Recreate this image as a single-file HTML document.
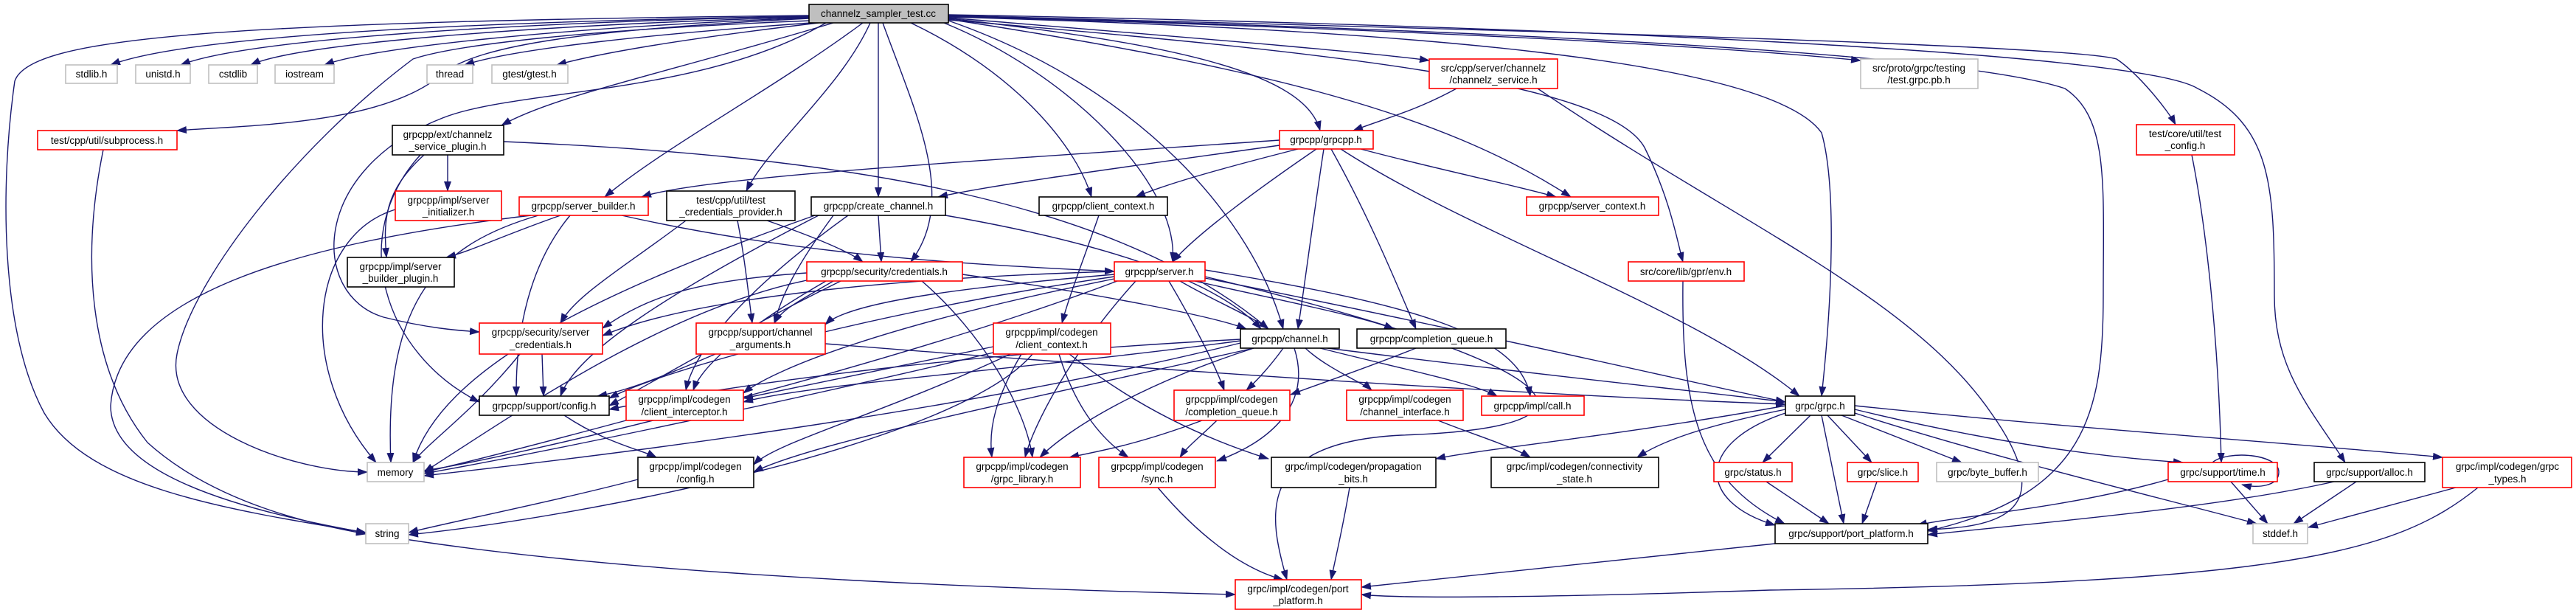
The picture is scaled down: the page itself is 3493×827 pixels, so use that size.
<!DOCTYPE html>
<html><head><meta charset="utf-8"><style>
html,body{margin:0;padding:0;background:#fff}
svg{display:block}
text{font-family:"Liberation Sans",sans-serif;font-size:13.5px;fill:#000;text-anchor:middle}
.e{fill:none;stroke:#191970;stroke-width:1.4}
.r{fill:#fff;stroke:#ff0000;stroke-width:1.6}
.b{fill:#fff;stroke:#000;stroke-width:1.6}
.g{fill:#fff;stroke:#bfbfbf;stroke-width:1.6}
</style></head><body>
<svg width="3493" height="827" viewBox="0 0 3493 827" xmlns="http://www.w3.org/2000/svg">
<defs><marker id="a" markerWidth="14" markerHeight="10" refX="13" refY="5" orient="auto" markerUnits="userSpaceOnUse"><path d="M0,0 L14,5 L0,10 z" fill="#191970"/></marker></defs>
<g class="e" marker-end="url(#a)">
<!-- root edges -->
<path d="M1097,22 C600,30 250,50 150,88"/>
<path d="M1097,22 C650,32 330,55 245,88"/>
<path d="M1097,23 C700,35 400,60 340,88"/>
<path d="M1097,24 C750,38 500,65 440,88"/>
<path d="M1100,31 C900,45 700,65 630,88"/>
<path d="M1110,31 C950,50 820,70 755,88"/>
<path d="M1097,25 C800,40 650,60 600,100 C520,170 330,170 240,177"/>
<path d="M1097,21 C300,30 40,50 20,110 C0,250 0,450 60,560 C120,660 300,690 496,722"/>
<path d="M1100,28 C800,40 620,60 560,80 C400,200 260,380 240,480 C220,580 400,640 498,640"/>
<path d="M1120,31 C950,130 700,120 600,160 C420,230 420,400 520,430 C580,445 620,448 650,450"/>
<path d="M1130,31 C900,100 750,130 680,170"/>
<path d="M1170,31 C1050,120 900,200 820,267"/>
<path d="M1180,31 C1140,120 1040,200 1012,259"/>
<path d="M1191,31 L1191,267"/>
<path d="M1197,31 C1240,150 1300,270 1235,355"/>
<path d="M1235,31 C1380,100 1460,200 1480,267"/>
<path d="M1280,31 C1450,100 1600,250 1590,355"/>
<path d="M1286,28 C1550,120 1700,300 1740,446"/>
<path d="M1286,24 C1600,50 1850,70 1938,82"/>
<path d="M1286,25 C1600,60 1770,100 1790,177"/>
<path d="M1286,26 C1700,90 1950,150 2130,267"/>
<path d="M1286,27 C1800,70 2180,110 2230,200 C2265,270 2275,330 2282,355"/>
<path d="M1286,22 C1900,40 2300,60 2523,82"/>
<path d="M1286,23 C1900,40 2400,80 2470,180 C2490,250 2485,400 2470,537"/>
<path d="M1286,21 C2000,40 2800,60 2870,80 C2900,100 2940,150 2950,169"/>
<path d="M1286,22 C2000,40 2650,70 2800,120 C2860,160 2852,250 2852,400 C2852,560 2830,670 2614,720"/>
<path d="M1286,20 C2100,35 2900,70 2980,120 C3080,170 3084,250 3084,400 C3084,500 3130,550 3180,627"/>
<!-- plugin -->
<path d="M607,210 L607,259"/>
<path d="M575,210 C520,260 520,300 524,349"/>
<path d="M570,210 C470,320 520,480 650,545"/>
<path d="M683,192 C1100,210 1500,260 1720,446"/>
<path d="M536,284 C420,320 400,500 510,627"/>
<!-- server_builder -->
<path d="M760,292 C680,320 640,340 605,349"/>
<path d="M843,292 C1100,350 1350,360 1511,368"/>
<path d="M730,292 C600,330 520,400 530,627"/>
<path d="M773,292 C700,380 700,500 700,537"/>
<path d="M720,292 C400,330 160,400 150,550 C150,700 600,780 1675,806"/>
<!-- tcred -->
<path d="M1040,299 C1100,320 1150,340 1170,355"/>
<path d="M1000,299 C1010,350 1015,400 1020,438"/>
<path d="M930,299 C850,360 780,400 760,438"/>
<!-- create_channel -->
<path d="M1191,292 L1195,355"/>
<path d="M1282,292 C1500,330 1650,380 1710,446"/>
<path d="M1130,292 C1080,360 1060,400 1050,438"/>
<path d="M1110,292 C900,400 780,480 760,537"/>
<path d="M1105,292 C800,400 600,500 560,627"/>
<path d="M1150,292 C1000,400 940,480 930,529"/>
<path d="M1490,292 C1470,350 1450,400 1440,438"/>
<!-- grpcpp.h -->
<path d="M1735,190 C1300,220 950,240 870,267"/>
<path d="M1735,197 C1500,230 1350,250 1272,267"/>
<path d="M1760,202 C1650,230 1580,250 1540,267"/>
<path d="M1785,202 C1700,260 1620,320 1590,355"/>
<path d="M1795,202 C1780,300 1770,380 1760,446"/>
<path d="M1805,202 C1860,300 1900,400 1920,446"/>
<path d="M1845,202 C1950,230 2050,250 2110,267"/>
<path d="M1818,202 C2000,320 2300,420 2440,537"/>
<path d="M1975,120 C1920,150 1880,160 1835,177"/>
<path d="M2085,120 C2350,300 2590,400 2700,560 C2800,700 2700,715 2614,718"/>
<!-- server.h -->
<path d="M1511,368 C1100,380 900,420 817,455"/>
<path d="M1511,372 C1300,390 1150,410 1119,440"/>
<path d="M1511,375 C1200,420 900,500 826,540"/>
<path d="M1511,378 C1200,440 1050,500 1008,533"/>
<path d="M1515,381 C1200,500 700,620 575,638"/>
<path d="M1600,381 C1650,410 1700,430 1720,446"/>
<path d="M1620,381 C1750,410 1850,430 1890,446"/>
<path d="M1585,381 C1620,440 1650,500 1660,529"/>
<path d="M1540,381 C1450,480 1400,580 1390,620"/>
<path d="M1634,366 C1900,410 2060,450 2075,537"/>
<path d="M1634,375 C2150,500 2200,580 1900,590 C1700,600 1720,700 1745,786"/>
<path d="M1634,377 C2000,450 2300,520 2421,545"/>
<!-- credentials.h -->
<path d="M1094,370 C950,380 880,400 817,445"/>
<path d="M1130,381 C1080,410 1060,420 1050,438"/>
<path d="M1305,372 C1500,400 1650,430 1690,446"/>
<path d="M1140,381 C1000,450 900,510 826,550"/>
<path d="M1120,381 C1000,450 950,500 940,529"/>
<path d="M1250,381 C1330,450 1390,550 1400,620"/>
<path d="M1094,380 C900,420 700,560 575,640"/>
<!-- misc -->
<path d="M735,480 L737,537"/>
<path d="M705,480 C640,560 580,600 560,627"/>
<path d="M970,480 C900,510 850,530 810,537"/>
<path d="M1119,466 C1800,520 2200,540 2421,548"/>
<path d="M765,563 C820,600 870,610 890,620"/>
<path d="M849,570 C700,610 620,630 575,640"/>
<path d="M865,650 C750,680 600,710 554,722"/>
<path d="M140,203 C110,350 120,500 200,600 C300,690 450,715 496,724"/>
<!-- codegen client_context -->
<path d="M1347,470 C1200,500 1100,520 1008,540"/>
<path d="M1385,480 C1350,540 1340,580 1345,620"/>
<path d="M1436,480 C1460,560 1500,600 1530,620"/>
<path d="M1450,480 C1550,560 1650,600 1720,622"/>
<path d="M1347,478 C1000,560 700,620 575,642"/>
<path d="M1400,480 C1300,600 800,700 554,725"/>
<path d="M1370,480 C1200,560 1050,600 1022,630"/>
<!-- channel.h -->
<path d="M1740,472 C1720,500 1700,520 1690,529"/>
<path d="M1770,472 C1800,500 1850,520 1860,529"/>
<path d="M1790,472 C1900,500 2000,520 2030,537"/>
<path d="M1800,472 C2100,510 2300,530 2421,545"/>
<path d="M1700,472 C1550,520 1450,580 1410,620"/>
<path d="M1755,472 C1780,550 1720,600 1650,625"/>
<path d="M1682,462 C1400,500 1100,520 1008,545"/>
<path d="M1682,465 C1300,560 800,620 575,645"/>
<path d="M1682,460 C1300,480 1000,520 826,555"/>
<path d="M1700,472 C1400,540 1100,600 1022,640"/>
<path d="M1920,472 C1850,500 1790,520 1750,535"/>
<path d="M1630,570 C1550,600 1500,610 1450,620"/>
<path d="M1650,570 C1630,590 1610,605 1600,620"/>
<path d="M1950,570 C2000,590 2050,605 2075,620"/>
<path d="M1570,661 C1620,720 1680,770 1740,786"/>
<path d="M1830,661 C1820,720 1810,760 1805,786"/>
<!-- grpc.h -->
<path d="M2455,563 L2390,627"/>
<path d="M2478,563 L2538,627"/>
<path d="M2497,563 L2660,627"/>
<path d="M2515,555 C2700,600 2850,620 2960,627"/>
<path d="M2515,560 C2700,620 2950,680 3060,710"/>
<path d="M2515,550 C2800,580 3100,600 3312,620"/>
<path d="M2470,563 L2500,710"/>
<path d="M2421,555 C2300,580 2250,600 2220,620"/>
<path d="M2421,550 C2200,590 2000,610 1947,622"/>
<path d="M2421,560 C2300,600 2300,680 2407,712"/>
<path d="M2395,653 L2480,710"/>
<path d="M2545,653 L2525,710"/>
<path d="M2940,650 C2800,690 2650,700 2600,712"/>
<path d="M3000,627 C3020,610 3090,615 3090,640 C3090,660 3060,662 3040,657"/>
<path d="M3025,653 L3075,710"/>
<path d="M3165,653 C3000,690 2750,710 2614,725"/>
<path d="M3195,653 L3110,710"/>
<path d="M3330,661 L3130,715"/>
<path d="M3360,661 C3250,750 3100,790 2400,800 C2100,810 1900,812 1846,806"/>
<path d="M2407,737 C2200,760 2000,780 1846,796"/>
<path d="M2972,210 C2990,300 3008,450 3012,627"/>
<path d="M2282,381 C2280,550 2300,650 2420,710"/>
</g>
<!-- nodes -->
<rect x="1097" y="6" width="189" height="25" fill="#bfbfbf" stroke="#000" stroke-width="1.6"/><text x="1191" y="23">channelz_sampler_test.cc</text>
<rect class="g" x="89" y="88" width="70" height="25"/><text x="124" y="105">stdlib.h</text>
<rect class="g" x="184" y="88" width="74" height="25"/><text x="221" y="105">unistd.h</text>
<rect class="g" x="283" y="88" width="66" height="25"/><text x="316" y="105">cstdlib</text>
<rect class="g" x="373" y="88" width="80" height="25"/><text x="413" y="105">iostream</text>
<rect class="g" x="579" y="88" width="62" height="25"/><text x="610" y="105">thread</text>
<rect class="g" x="667" y="88" width="103" height="25"/><text x="718" y="105">gtest/gtest.h</text>
<rect class="r" x="1938" y="80" width="174" height="40"/><text x="2025" y="97">src/cpp/server/channelz</text><text x="2025" y="113">/channelz_service.h</text>
<rect class="g" x="2523" y="80" width="159" height="40"/><text x="2602" y="97">src/proto/grpc/testing</text><text x="2602" y="113">/test.grpc.pb.h</text>
<rect class="r" x="51" y="177" width="189" height="26"/><text x="145" y="195">test/cpp/util/subprocess.h</text>
<rect class="b" x="532" y="170" width="151" height="40"/><text x="607" y="187">grpcpp/ext/channelz</text><text x="607" y="203">_service_plugin.h</text>
<rect class="r" x="1735" y="177" width="127" height="25"/><text x="1798" y="194">grpcpp/grpcpp.h</text>
<rect class="r" x="2897" y="169" width="133" height="41"/><text x="2963" y="186">test/core/util/test</text><text x="2963" y="202">_config.h</text>
<rect class="r" x="536" y="259" width="144" height="40"/><text x="608" y="276">grpcpp/impl/server</text><text x="608" y="292">_initializer.h</text>
<rect class="r" x="704" y="267" width="175" height="25"/><text x="791" y="284">grpcpp/server_builder.h</text>
<rect class="b" x="904" y="259" width="174" height="40"/><text x="991" y="276">test/cpp/util/test</text><text x="991" y="292">_credentials_provider.h</text>
<rect class="b" x="1100" y="267" width="182" height="25"/><text x="1191" y="284">grpcpp/create_channel.h</text>
<rect class="b" x="1409" y="267" width="174" height="25"/><text x="1496" y="284">grpcpp/client_context.h</text>
<rect class="r" x="2070" y="267" width="179" height="25"/><text x="2159" y="284">grpcpp/server_context.h</text>
<rect class="b" x="471" y="349" width="145" height="40"/><text x="543" y="366">grpcpp/impl/server</text><text x="543" y="382">_builder_plugin.h</text>
<rect class="r" x="1094" y="355" width="211" height="26"/><text x="1199" y="373">grpcpp/security/credentials.h</text>
<rect class="r" x="1511" y="355" width="123" height="26"/><text x="1572" y="373">grpcpp/server.h</text>
<rect class="r" x="2208" y="355" width="157" height="26"/><text x="2286" y="373">src/core/lib/gpr/env.h</text>
<rect class="r" x="650" y="438" width="167" height="42"/><text x="733" y="455">grpcpp/security/server</text><text x="733" y="472">_credentials.h</text>
<rect class="r" x="944" y="438" width="175" height="42"/><text x="1031" y="455">grpcpp/support/channel</text><text x="1031" y="472">_arguments.h</text>
<rect class="r" x="1347" y="438" width="159" height="42"/><text x="1426" y="455">grpcpp/impl/codegen</text><text x="1426" y="472">/client_context.h</text>
<rect class="b" x="1682" y="446" width="134" height="26"/><text x="1749" y="464">grpcpp/channel.h</text>
<rect class="b" x="1840" y="446" width="202" height="26"/><text x="1941" y="464">grpcpp/completion_queue.h</text>
<rect class="b" x="650" y="537" width="176" height="26"/><text x="738" y="555">grpcpp/support/config.h</text>
<rect class="r" x="849" y="529" width="159" height="41"/><text x="928" y="546">grpcpp/impl/codegen</text><text x="928" y="563">/client_interceptor.h</text>
<rect class="r" x="1592" y="529" width="157" height="41"/><text x="1670" y="546">grpcpp/impl/codegen</text><text x="1670" y="563">/completion_queue.h</text>
<rect class="r" x="1826" y="529" width="158" height="41"/><text x="1905" y="546">grpcpp/impl/codegen</text><text x="1905" y="563">/channel_interface.h</text>
<rect class="r" x="2009" y="537" width="139" height="26"/><text x="2078" y="555">grpcpp/impl/call.h</text>
<rect class="b" x="2421" y="537" width="94" height="26"/><text x="2468" y="555">grpc/grpc.h</text>
<rect class="g" x="498" y="627" width="77" height="26"/><text x="536" y="645">memory</text>
<rect class="b" x="865" y="620" width="157" height="41"/><text x="943" y="637">grpcpp/impl/codegen</text><text x="943" y="654">/config.h</text>
<rect class="r" x="1307" y="620" width="158" height="41"/><text x="1386" y="637">grpcpp/impl/codegen</text><text x="1386" y="654">/grpc_library.h</text>
<rect class="r" x="1490" y="620" width="158" height="41"/><text x="1569" y="637">grpcpp/impl/codegen</text><text x="1569" y="654">/sync.h</text>
<rect class="b" x="1724" y="620" width="223" height="41"/><text x="1835" y="637">grpc/impl/codegen/propagation</text><text x="1835" y="654">_bits.h</text>
<rect class="b" x="2022" y="620" width="227" height="41"/><text x="2135" y="637">grpc/impl/codegen/connectivity</text><text x="2135" y="654">_state.h</text>
<rect class="r" x="2324" y="627" width="106" height="26"/><text x="2377" y="645">grpc/status.h</text>
<rect class="r" x="2505" y="627" width="96" height="26"/><text x="2553" y="645">grpc/slice.h</text>
<rect class="g" x="2626" y="627" width="138" height="26"/><text x="2695" y="645">grpc/byte_buffer.h</text>
<rect class="r" x="2940" y="627" width="148" height="26"/><text x="3014" y="645">grpc/support/time.h</text>
<rect class="b" x="3138" y="627" width="150" height="26"/><text x="3213" y="645">grpc/support/alloc.h</text>
<rect class="r" x="3312" y="620" width="175" height="41"/><text x="3400" y="637">grpc/impl/codegen/grpc</text><text x="3400" y="654">_types.h</text>
<rect class="g" x="496" y="710" width="58" height="27"/><text x="525" y="728">string</text>
<rect class="b" x="2407" y="710" width="207" height="27"/><text x="2510" y="728">grpc/support/port_platform.h</text>
<rect class="g" x="3055" y="710" width="74" height="27"/><text x="3092" y="728">stddef.h</text>
<rect class="r" x="1675" y="786" width="171" height="40"/><text x="1760" y="803">grpc/impl/codegen/port</text><text x="1760" y="819">_platform.h</text>
</g>
</svg>
</body></html>
